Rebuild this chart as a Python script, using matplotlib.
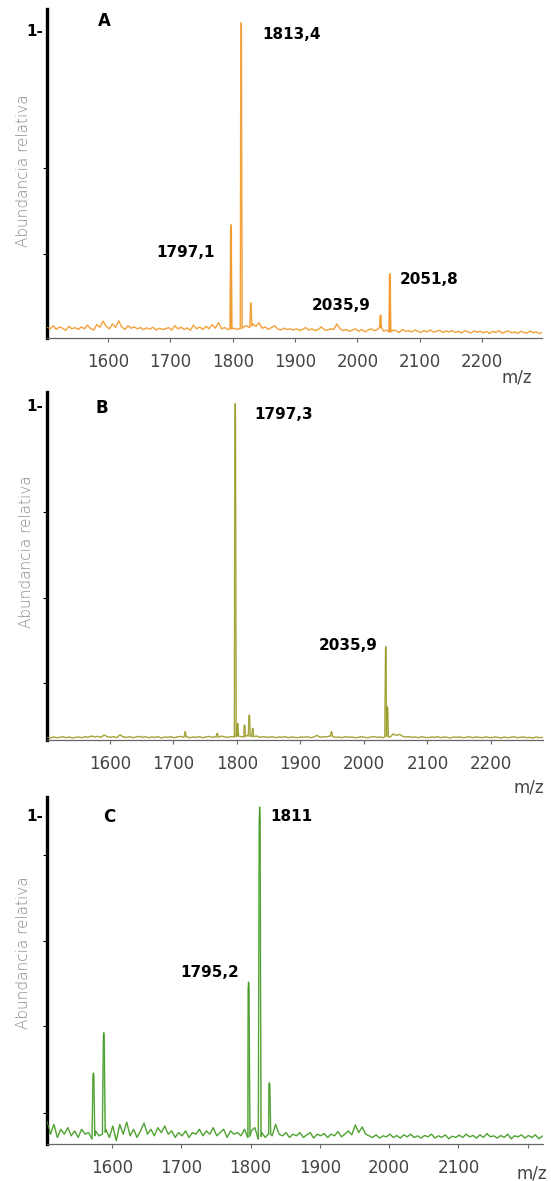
import numpy as np
import matplotlib
matplotlib.use("Agg")
import matplotlib.pyplot as plt

plt.rcParams['font.family'] = ['DejaVu Sans']

# ---------------- data ----------------
# Panel A (orange)
a_noise_start, a_noise_step = 1502, 5
a_noise = [0.035,0.030,0.040,0.028,0.036,0.032,0.025,0.038,0.030,0.034,
           0.028,0.036,0.030,0.042,0.031,0.026,0.044,0.035,0.055,0.038,
           0.030,0.046,0.034,0.056,0.036,0.028,0.040,0.032,0.036,0.030,
           0.034,0.027,0.033,0.029,0.035,0.026,0.032,0.028,0.030,0.034,
           0.026,0.040,0.030,0.035,0.028,0.033,0.025,0.042,0.030,0.036,
           0.028,0.038,0.030,0.044,0.032,0.050,0.030,0.034,0.028,0.030,
           0.032,0.028,0.030,0.036,0.040,0.034,0.046,0.038,0.050,0.032,
           0.036,0.028,0.034,0.040,0.030,0.026,0.032,0.028,0.030,0.026,
           0.030,0.025,0.028,0.034,0.026,0.030,0.024,0.028,0.036,0.027,
           0.026,0.030,0.028,0.046,0.030,0.024,0.028,0.022,0.026,0.030,
           0.022,0.028,0.020,0.026,0.030,0.024,0.028,0.034,0.022,0.026,
           0.020,0.026,0.024,0.018,0.028,0.022,0.024,0.020,0.026,0.022,
           0.018,0.024,0.020,0.026,0.019,0.022,0.025,0.018,0.023,0.020,
           0.024,0.018,0.022,0.016,0.024,0.020,0.017,0.023,0.019,0.022,
           0.017,0.021,0.015,0.022,0.018,0.024,0.016,0.020,0.023,0.017,
           0.020,0.015,0.022,0.018,0.016,0.023,0.017,0.020,0.014,0.019]
a_peak_mz = [1797.1, 1813.4, 1829.0, 2037.0, 2052.0]
a_peak_h = [0.37, 1.03, 0.115, 0.075, 0.21]
a_labels = ["1797,1", "1813,4", "2035,9", "2051,8"]
a_label_mz = [1677, 1847, 1927, 2068]
a_label_y = [0.281, 0.993, 0.105, 0.19]

# Panel B (olive)
b_noise_start, b_noise_step = 1501, 5
b_noise = [0.008,0.006,0.009,0.007,0.008,0.010,0.007,0.009,0.006,0.008,
           0.009,0.007,0.010,0.008,0.012,0.009,0.011,0.008,0.015,0.010,
           0.008,0.010,0.007,0.016,0.009,0.008,0.010,0.007,0.009,0.011,
           0.008,0.010,0.007,0.009,0.008,0.010,0.006,0.009,0.008,0.010,
           0.007,0.009,0.011,0.008,0.010,0.007,0.009,0.008,0.010,0.007,
           0.009,0.011,0.008,0.010,0.008,0.012,0.009,0.008,0.010,0.009,
           0.012,0.010,0.009,0.014,0.011,0.010,0.012,0.008,0.010,0.009,
           0.008,0.010,0.007,0.009,0.008,0.010,0.007,0.009,0.008,0.007,
           0.009,0.008,0.010,0.007,0.009,0.014,0.008,0.010,0.009,0.012,
           0.010,0.008,0.009,0.007,0.010,0.008,0.009,0.007,0.008,0.010,
           0.008,0.007,0.009,0.010,0.008,0.009,0.007,0.011,0.008,0.018,
           0.014,0.017,0.011,0.009,0.010,0.008,0.009,0.007,0.010,0.008,
           0.007,0.009,0.008,0.010,0.007,0.009,0.008,0.006,0.009,0.008,
           0.009,0.007,0.008,0.010,0.007,0.009,0.008,0.007,0.009,0.008,
           0.007,0.009,0.008,0.006,0.009,0.007,0.008,0.010,0.007,0.008,
           0.009,0.007,0.008,0.006,0.009,0.007,0.008,0.007]
b_peak_mz = [1718.6, 1769.0, 1797.3, 1801.0, 1812.0, 1819.5, 1825.0, 1949.0, 2034.5, 2037.0]
b_peak_h = [0.025, 0.02, 1.01, 0.05, 0.045, 0.075, 0.035, 0.025, 0.28, 0.10]
b_labels = ["1797,3", "2035,9"]
b_label_mz = [1827, 1929]
b_label_y = [0.976, 0.285]

# Panel C (green)
c_noise_start, c_noise_step = 1506, 5
c_noise = [0.070,0.030,0.060,0.020,0.045,0.030,0.050,0.025,0.040,0.020,
           0.045,0.030,0.035,0.015,0.040,0.025,0.030,0.045,0.020,0.055,
           0.010,0.060,0.030,0.067,0.025,0.045,0.020,0.040,0.064,0.030,
           0.045,0.025,0.050,0.035,0.055,0.030,0.040,0.020,0.035,0.025,
           0.040,0.020,0.035,0.030,0.045,0.025,0.040,0.030,0.050,0.025,
           0.035,0.045,0.020,0.040,0.030,0.035,0.025,0.045,0.020,0.040,
           0.050,0.015,0.035,0.020,0.030,0.025,0.060,0.030,0.025,0.035,
           0.020,0.030,0.025,0.035,0.020,0.028,0.035,0.018,0.030,0.025,
           0.032,0.020,0.030,0.025,0.038,0.022,0.030,0.040,0.028,0.058,
           0.035,0.052,0.030,0.025,0.020,0.028,0.018,0.025,0.022,0.030,
           0.020,0.026,0.018,0.028,0.022,0.030,0.020,0.025,0.018,0.026,
           0.022,0.030,0.018,0.025,0.020,0.028,0.016,0.024,0.020,0.027,
           0.020,0.030,0.022,0.026,0.018,0.028,0.020,0.032,0.022,0.025,
           0.018,0.026,0.020,0.030,0.016,0.025,0.022,0.028,0.018,0.026,
           0.020,0.028,0.016,0.024]
c_peak_mz = [1573.0, 1588.0, 1797.0, 1813.0, 1827.0]
c_peak_h = [0.217, 0.34, 0.495, 1.03, 0.187]
c_labels = ["1795,2", "1811"]
c_label_mz = [1698, 1828]
c_label_y = [0.523, 1.0]

x_ticks = [1600, 1700, 1800, 1900, 2000, 2100, 2200]
a_tick_labels = ["1600", "1700", "1800", "1900", "2000", "2100", "2200"]
b_tick_labels = ["1600", "1700", "1800", "1900", "2000", "2100", "2200"]
c_tick_labels = ["1600", "1700", "1800", "1900", "2000", "2100", ""]


def build_spectrum(start, step, noise, pk_mz, pk_h, hw):
    mz = list(start + step * np.arange(len(noise)))
    ys = list(noise)
    base = np.interp(pk_mz, mz, ys)
    for m, h, b in zip(pk_mz, pk_h, base):
        mz += [m - hw, m - hw * 0.3, m, m + hw * 0.3, m + hw]
        ys += [b, h * 0.96, h, h * 0.96, b]
    order = np.argsort(mz, kind="stable")
    return np.array(mz)[order], np.array(ys)[order]


W, H = 551, 1181
fig = plt.figure(figsize=(W / 100, H / 100), dpi=100)

panels = [
    dict(box=(47, 9, 542, 338), xlim=(1502, 2296), ytop=1.075, color="#F29B30", light="#F8C27F",
         sp=(a_noise_start, a_noise_step, a_noise, a_peak_mz, a_peak_h), hw=1.6,
         labels=a_labels, lmz=a_label_mz, ly=a_label_y, letter="A", letter_mz=1584, letter_y=1.036,
         yticks=[0.275, 0.556], ticklabels=a_tick_labels, mz=(517, 378), ylab=(24, 171)),
    dict(box=(47, 392, 543, 740), xlim=(1501, 2282), ytop=1.045, color="#9C9C2E", light="#C8C87A",
         sp=(b_noise_start, b_noise_step, b_noise, b_peak_mz, b_peak_h), hw=1.6,
         labels=b_labels, lmz=b_label_mz, ly=b_label_y, letter="B", letter_mz=1578, letter_y=0.997,
         yticks=[0.171, 0.426, 0.685], ticklabels=b_tick_labels, mz=(529, 787), ylab=(27, 552)),
    dict(box=(47, 797, 543, 1144), xlim=(1506, 2222), ytop=1.061, color="#45992A", light="#8CC873",
         sp=(c_noise_start, c_noise_step, c_noise, c_peak_mz, c_peak_h), hw=2.0,
         labels=c_labels, lmz=c_label_mz, ly=c_label_y, letter="C", letter_mz=1587, letter_y=1.0,
         yticks=[0.095, 0.36, 0.62, 0.884], ticklabels=c_tick_labels, mz=(532, 1173), ylab=(24, 953)),
]

for p in panels:
    x0, y0, x1, y1 = p["box"]
    ax = fig.add_axes([x0 / W, 1 - y1 / H, (x1 - x0) / W, (y1 - y0) / H])
    mz, ys = build_spectrum(*p["sp"], p["hw"])
    ax.plot(mz, ys, color=p["light"], lw=1.1, zorder=2)
    ax.plot(mz, ys, color=p["color"], lw=0.6, zorder=3)
    ax.set_xlim(*p["xlim"])
    ax.set_ylim(0, p["ytop"])
    for s in ["top", "right"]:
        ax.spines[s].set_visible(False)
    ax.spines["left"].set_linewidth(2.4)
    ax.spines["left"].set_color("black")
    ax.spines["bottom"].set_linewidth(0.9)
    ax.spines["bottom"].set_color("#666666")
    ax.set_xticks(x_ticks)
    ax.set_xticklabels(p["ticklabels"])
    ax.tick_params(axis="x", direction="out", length=3, width=0.8, color="#666666",
                   labelsize=12, labelcolor="#444444", pad=8)
    ax.set_yticks(p["yticks"])
    ax.set_yticklabels([])
    ax.tick_params(axis="y", direction="out", length=3, width=0.8, color="black")
    dx = (p["xlim"][1] - p["xlim"][0]) / (x1 - x0)
    ax.text(p["xlim"][0] - 4 * dx, 1.0, "1-", ha="right", va="center",
            fontsize=11, fontweight="bold", clip_on=False)
    ax.text(p["letter_mz"], p["letter_y"], p["letter"], ha="left", va="center",
            fontsize=12, fontweight="bold")
    for lab, lx, ly in zip(p["labels"], p["lmz"], p["ly"]):
        ax.text(lx, ly, lab, ha="left", va="center", fontsize=11, fontweight="bold")
    fig.text(p["mz"][0] / W, 1 - p["mz"][1] / H, "m/z", ha="center", va="center",
             fontsize=12, color="#444444")
    fig.text(p["ylab"][0] / W, 1 - p["ylab"][1] / H, "Abundancia relativa", rotation=90,
             ha="center", va="center", fontsize=11, color="#8a8a8a", fontweight="light")

fig.savefig("out.png", dpi=100)
